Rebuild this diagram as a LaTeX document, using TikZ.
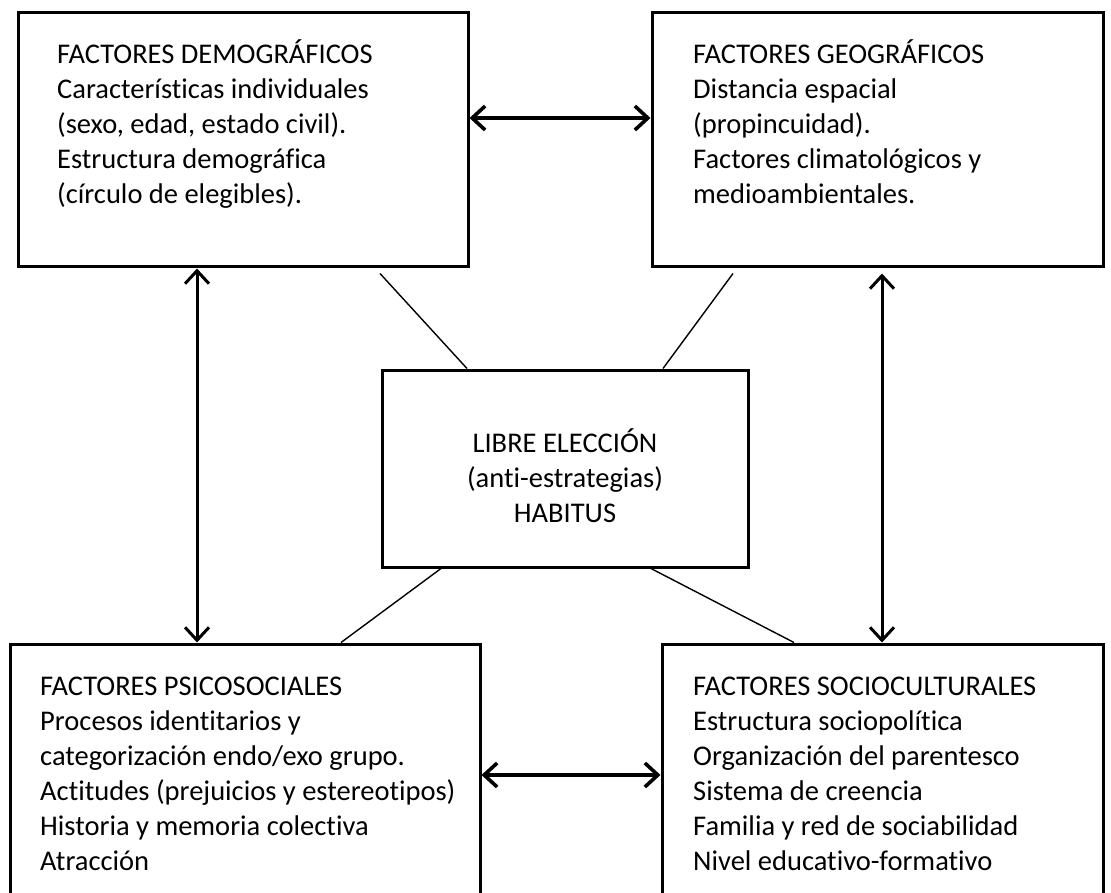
\documentclass[tikz,border=0pt]{standalone}
\usepackage{fontspec}
\setmainfont{Carlito}[Ligatures={NoCommon}]
\usetikzlibrary{arrows.meta,calc}

\tikzset{
  box/.style={draw, line width=3pt, rectangle, inner sep=0pt},
  txt/.style={inner sep=0pt, font=\fontsize{28.5}{35}\selectfont},
  arr/.style={line width=3pt, {Straight Barb[length=13pt,width=24pt]}-{Straight Barb[length=13pt,width=24pt]}},
  thin link/.style={line width=1.4pt},
}
% strut that fixes the height of the first text line
\newcommand{\firstline}{\rule{0pt}{25pt}}

\begin{document}
\begin{tikzpicture}[x=1pt,y=-1pt]
  \useasboundingbox (0,0) rectangle (1111,893);
  \fill[white] (0,0) rectangle (1111,893);
  \clip (0,0) rectangle (1111,893);

  % the five boxes (the lower two run past the bottom of the page)
  \node[box, minimum width=450pt, minimum height=254pt] (demo) at (243,140) {};
  \node[box, minimum width=451pt, minimum height=254pt] (geo) at (877.5,140) {};
  \node[box, minimum width=366pt, minimum height=197pt] (libre) at (565,468.5) {};
  \node[box, minimum width=470pt, minimum height=306pt] (psico) at (245,797) {};
  \node[box, minimum width=441pt, minimum height=306pt] (socio) at (882.5,797) {};

  % box contents
  \node[txt, anchor=north west, align=left] (demoT) at (57,38) {\firstline FACTORES DEMOGRÁFICOS\\Características individuales\\(sexo, edad, estado civil).\\Estructura demográfica\\(círculo de elegibles).};
  \node[txt, anchor=north west, align=left] (geoT) at (693,38) {\firstline FACTORES GEOGRÁFICOS\\Distancia espacial\\(propincuidad).\\Factores climatológicos y\\medioambientales.};
  \node[txt, anchor=north, align=center] (libreT) at (565,427) {\firstline LIBRE ELECCIÓN\\(anti-estrategias)\\HABITUS};
  \node[txt, anchor=north west, align=left] (psicoT) at (40,670) {\firstline FACTORES PSICOSOCIALES\\Procesos identitarios y\\categorización endo/exo grupo.\\Actitudes (prejuicios y estereotipos)\\Historia y memoria colectiva\\Atracción};
  \node[txt, anchor=north west, align=left] (socioT) at (693,670) {\firstline FACTORES SOCIOCULTURALES\\Estructura sociopolítica\\Organización del parentesco\\Sistema de creencia\\Familia y red de sociabilidad\\Nivel educativo-formativo};

  % double arrows between neighbouring boxes
  \draw[arr, line width=3.6pt] ([yshift=22pt]demo.east) -- ([yshift=22pt]geo.west);
  \draw[arr, line width=3.6pt] ([yshift=22pt]psico.east) -- ([yshift=22pt]socio.west);
  \draw[arr] ([xshift=-46pt]demo.south) -- ([xshift=-46pt]demo.south |- psico.north);
  \draw[arr] ([xshift=4.5pt,yshift=-5pt]geo.south) -- ([xshift=4.5pt]geo.south |- socio.north);

  % thin links to the central box
  \draw[thin link] ([xshift=137pt,yshift=-5pt]demo.south) -- ([xshift=-98pt]libre.north);
  \draw[thin link] ([xshift=-144.5pt,yshift=-5pt]geo.south) -- ([xshift=98pt]libre.north);
  \draw[thin link] ([xshift=-124pt]libre.south) -- ([xshift=96pt]psico.north);
  \draw[thin link] ([xshift=86pt]libre.south) -- ([xshift=-88.5pt]socio.north);
\end{tikzpicture}
\end{document}
